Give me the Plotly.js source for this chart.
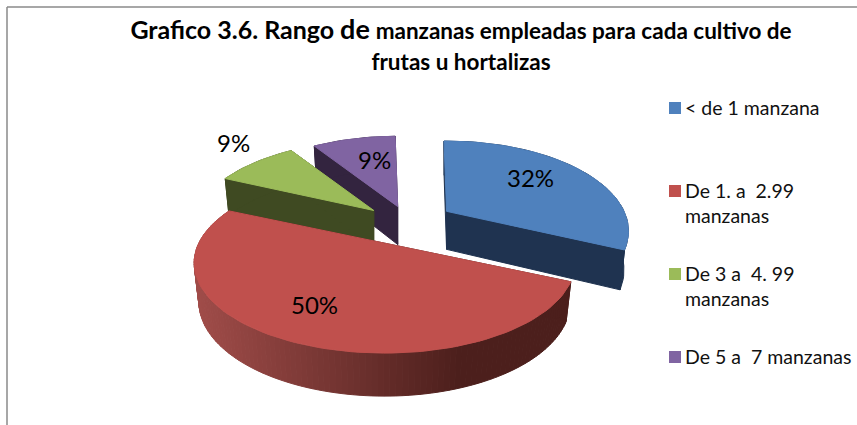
<!DOCTYPE html>
<html><head><meta charset="utf-8">
<script src="https://cdn.plot.ly/plotly-3.0.1.min.js"></script>
<style>html,body{margin:0;padding:0;background:#fff}#c{width:857px;height:425px}</style>
</head><body><div id="c"></div>
<script>
const categories = ["< de 1 manzana", "De 1. a  2.99<br>manzanas", "De 3 a  4. 99<br>manzanas", "De 5 a  7 manzanas"];
const values = [32, 50, 9, 9];
const topColors = ["#4f81bd", "#c0504d", "#9bbb59", "#8064a2"];
const sideColors = ["#1f3350", "#4f201d", "#3f4a22", "#33243f"];

// Projection of the tilted pie, in plot units (axes span the page)
const CX = 408, CY = 223, EXPLODE = 45, TILT = 0.43;
const RX = 183, RY = 87.5, PERSP = 0.22, DEPTH = 38, BOTTOM_SHRINK = 0.975, START_DEG = -1;
const LABEL_R = [0.62, 0.62, 1.25, 0.58];
const LABEL_SHIFT = [[2, -8], [-11, 1], [8, -8], [2, -8]];
const NUDGE = [[1, -1], [-5, 2.5], [0, 0], [3, 2]];
const SCALE_X = [0.97, 1.015, 0.97, 0.98];
const SCALE_Y = [0.98, 0.98, 0.97, 0.98];

const rad = d => d * Math.PI / 180;
const total = values.reduce((a, b) => a + b, 0);
let acc = START_DEG;
const slices = values.map((v, i) => {
  const a0 = acc, a1 = acc + v / total * 360; acc = a1;
  const b = rad((a0 + a1) / 2);
  const ay = CY - EXPLODE * TILT * Math.cos(b) + NUDGE[i][1];
  return {i, v, a0, a1, ax: CX + EXPLODE * Math.sin(b) + NUDGE[i][0], ay, kx: SCALE_X[i], ky: SCALE_Y[i]};
});
const offs = (sl, deg) => {
  const t = rad(deg), s = 1 / (1 + PERSP * Math.cos(t));
  return {dx: RX * sl.kx * Math.sin(t) * s, dy: -RY * sl.ky * Math.cos(t) * s, s};
};
const topPt = (sl, deg, f = 1) => { const o = offs(sl, deg); return [sl.ax + o.dx * f, sl.ay + o.dy * f]; };
const botPt = (sl, deg) => { const o = offs(sl, deg); return [sl.ax + o.dx * BOTTOM_SHRINK, sl.ay + o.dy + DEPTH * Math.sqrt(o.s)]; };
const apexBot = sl => [sl.ax, sl.ay + DEPTH];
const poly = (pts, color, name) => ({
  type: "scatter", mode: "lines", x: pts.map(p => p[0]).concat(pts[0][0]), y: pts.map(p => p[1]).concat(pts[0][1]),
  fill: "toself", fillcolor: color, line: {color: color, width: 1}, name: name, hoverinfo: "skip", showlegend: false
});
const arc = (sl, fn) => { const p = [], n = Math.max(8, Math.ceil((sl.a1 - sl.a0) / 2)); for (let k = 0; k <= n; k++) p.push(fn(sl, sl.a0 + (sl.a1 - sl.a0) * k / n)); return p; };
const mix = (c1, c2, t) => "rgb(" + c1.map((c, j) => Math.round(c + (c2[j] - c) * t)).join(",") + ")";

const traces = [];
[3, 2, 0, 1].forEach(idx => {
  const sl = slices[idx], col = topColors[idx], side = sideColors[idx], nm = categories[idx];
  const apex = [sl.ax, sl.ay], ab = apexBot(sl);
  traces.push(poly([apex, topPt(sl, sl.a0), botPt(sl, sl.a0), ab], side, nm));
  traces.push(poly([apex, topPt(sl, sl.a1), botPt(sl, sl.a1), ab], side, nm));
  if (idx === 1) {
    const n = Math.ceil((sl.a1 - sl.a0) / 1.5);
    for (let k = 0; k < n; k++) {
      const d0 = sl.a0 + (sl.a1 - sl.a0) * k / n, d1 = sl.a0 + (sl.a1 - sl.a0) * (k + 1) / n;
      const x = topPt(sl, (d0 + d1) / 2)[0];
      const t = Math.min(1, Math.max(0, (460 - x) / 265));
      traces.push(poly([topPt(sl, d0), topPt(sl, d1), botPt(sl, d1), botPt(sl, d0)], mix([76, 31, 28], [160, 76, 73], t), nm));
    }
  } else {
    traces.push(poly(arc(sl, topPt).concat(arc(sl, botPt).reverse()), side, nm));
  }
  traces.push(poly([apex].concat(arc(sl, topPt)), col, nm));
});

const FONT = "Lato, 'Open Sans', sans-serif";
const annotations = slices.map(sl => {
  const p = topPt(sl, (sl.a0 + sl.a1) / 2, LABEL_R[sl.i]);
  return {x: p[0] + LABEL_SHIFT[sl.i][0], y: p[1] + LABEL_SHIFT[sl.i][1], xref: "x", yref: "y", text: sl.v + "%", showarrow: false, font: {family: FONT, size: 24, color: "#000"}};
});
const shapes = [
  {type: "line", xref: "x", yref: "y", x0: 7, y0: 7, x1: 857, y1: 7, line: {color: "#8a8a8a", width: 1.5}},
  {type: "line", xref: "x", yref: "y", x0: 7, y0: 7, x1: 7, y1: 425, line: {color: "#8a8a8a", width: 1.5}}
];
categories.forEach((c, i) => {
  const y = 108 + 83 * i;
  shapes.push({type: "rect", xref: "x", yref: "y", x0: 669, x1: 681, y0: y - 6, y1: y + 6, fillcolor: topColors[i], line: {width: 0}});
  annotations.push({x: 683, y: y - 14, xref: "x", yref: "y", xanchor: "left", yanchor: "top", align: "left", text: c, showarrow: false,
    font: {family: FONT, size: 19.5, color: "#111"}});
});

Plotly.newPlot("c", traces, {
  width: 857, height: 425, margin: {l: 0, r: 0, t: 0, b: 0}, paper_bgcolor: "#fff", plot_bgcolor: "#fff", showlegend: false,
  title: {text: "<b><span style='font-size:25px'>Grafico 3.6. Rango</span> <span style='font-size:27px'>de</span> <span style='font-size:22.5px'>manzanas empleadas para cada cultivo de</span><br><span style='font-size:22.5px'>frutas u hortalizas</span></b>",
    x: 461 / 857, xanchor: "center", xref: "paper", y: 0.908, yanchor: "top", font: {family: FONT, size: 24, color: "#000"}},
  xaxis: {range: [0, 857], visible: false, fixedrange: true},
  yaxis: {range: [425, 0], visible: false, fixedrange: true},
  shapes, annotations
}, {displayModeBar: false, staticPlot: true});
</script></body></html>
